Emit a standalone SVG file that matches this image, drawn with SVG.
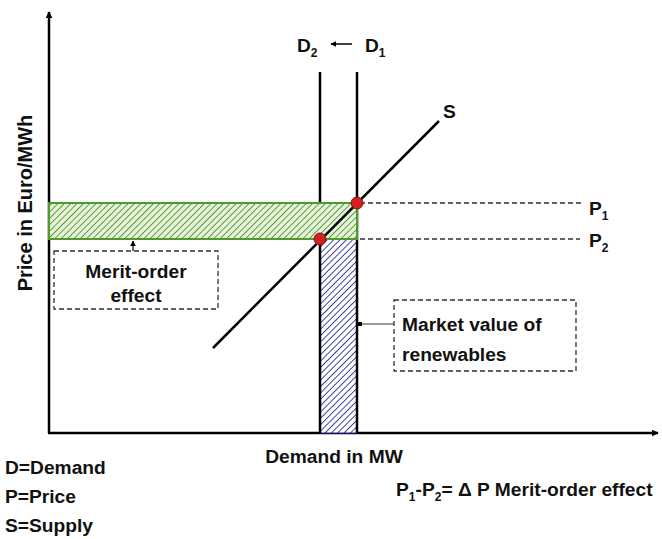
<svg xmlns="http://www.w3.org/2000/svg" width="662" height="539" viewBox="0 0 662 539">
<defs>
<style>
.t{font-family:"Liberation Sans",Arial,sans-serif;font-weight:bold;font-size:19.2px;fill:#111}
.sub{font-size:12px}
.ax{stroke:#000;stroke-width:2.5;fill:none}
.dl{stroke:#000;stroke-width:2.5;fill:none}
.dash{stroke:#333;stroke-width:1.3;stroke-dasharray:5,3;fill:none}
.box{stroke:#333;stroke-width:1.3;stroke-dasharray:5,3;fill:#fff}
.pt{fill:#d42020;stroke:#8a1010;stroke-width:1}
</style>
<pattern id="hg" patternUnits="userSpaceOnUse" width="4.5" height="4.5" patternTransform="rotate(45)">
<rect width="5" height="5" fill="#e6f2dc"/>
<line x1="0" y1="0" x2="0" y2="5" stroke="#4f9a2a" stroke-width="1.8"/>
</pattern>
<pattern id="hb" patternUnits="userSpaceOnUse" width="4.5" height="4.5" patternTransform="rotate(45)">
<rect width="5" height="5" fill="#ffffff"/>
<line x1="0" y1="0" x2="0" y2="5" stroke="#26268f" stroke-width="1.7"/>
</pattern>
<marker id="ah" viewBox="0 0 10 10" refX="9" refY="5" markerWidth="7" markerHeight="7" orient="auto-start-reverse" markerUnits="userSpaceOnUse">
<path d="M0,0 L10,5 L0,10 z" fill="#000"/>
</marker>
<marker id="ahs" viewBox="0 0 10 10" refX="9" refY="5" markerWidth="6" markerHeight="6" orient="auto" markerUnits="userSpaceOnUse">
<path d="M0,0 L10,5 L0,10 z" fill="#000"/>
</marker>
</defs>
<rect width="662" height="539" fill="#fff"/>

<g id="axes">
<line class="ax" x1="49" y1="433" x2="49" y2="12" marker-end="url(#ah)"/>
<line class="ax" x1="48" y1="433" x2="658" y2="433" marker-end="url(#ah)"/>
<text class="t" transform="translate(32,203) rotate(-90)" text-anchor="middle" style="font-size:20px">Price in Euro/MWh</text>
<text class="t" x="334" y="463" text-anchor="middle">Demand in MW</text>
</g>

<g id="market-value-area">
<rect x="320" y="239" width="37" height="194" fill="url(#hb)" stroke="#26268f" stroke-width="1"/>
</g>

<g id="demand-D2">
<line class="dl" x1="320" y1="72" x2="320" y2="433"/>
<text class="t" x="297" y="52">D<tspan class="sub" dy="5">2</tspan></text>
</g>
<g id="demand-D1">
<line class="dl" x1="357" y1="72" x2="357" y2="433"/>
<text class="t" x="365" y="52">D<tspan class="sub" dy="5">1</tspan></text>
</g>

<g id="merit-order-area">
<rect x="49" y="203" width="308" height="36" fill="url(#hg)" stroke="#4f9a2a" stroke-width="2"/>
</g>

<g id="supply-S">
<line class="dl" x1="213" y1="348" x2="439" y2="121"/>
<text class="t" x="443" y="118">S</text>
</g>

<g id="price-P1">
<line class="dash" x1="360" y1="203" x2="582" y2="203"/>
<text class="t" x="589" y="215">P<tspan class="sub" dy="5">1</tspan></text>
</g>
<g id="price-P2">
<line class="dash" x1="360" y1="239" x2="580" y2="239"/>
<text class="t" x="589" y="247">P<tspan class="sub" dy="5">2</tspan></text>
</g>

<g id="equilibria">
<circle class="pt" cx="357" cy="203" r="6"/>
<circle class="pt" cx="320" cy="239" r="6"/>
</g>

<g id="merit-order-label">
<rect class="box" x="54" y="251" width="164" height="58"/>
<text class="t" x="136" y="278" text-anchor="middle">Merit-order</text>
<text class="t" x="136" y="302" text-anchor="middle">effect</text>
</g>

<g id="market-value-label">
<rect class="box" x="394" y="300" width="182" height="71"/>
<text class="t" x="402" y="331">Market value of</text>
<text class="t" x="402" y="361">renewables</text>
</g>

<g id="connectors">
<line x1="352" y1="44" x2="331" y2="44" stroke="#000" stroke-width="1.5" marker-end="url(#ahs)"/>
<line x1="133" y1="251" x2="133" y2="241" stroke="#000" stroke-width="1.2" marker-end="url(#ahs)"/>
<line x1="394" y1="324" x2="360" y2="324" stroke="#333" stroke-width="1.2"/>
<rect x="358" y="322" width="4" height="4" fill="#000"/>
</g>

<g id="legend">
<text class="t" x="5" y="474">D=Demand</text>
<text class="t" x="5" y="503">P=Price</text>
<text class="t" x="5" y="532">S=Supply</text>
<text class="t" x="396" y="496">P<tspan class="sub" dy="5">1</tspan><tspan dy="-5">-P</tspan><tspan class="sub" dy="5">2</tspan><tspan dy="-5">= Δ P Merit-order effect</tspan></text>
</g>
</svg>
